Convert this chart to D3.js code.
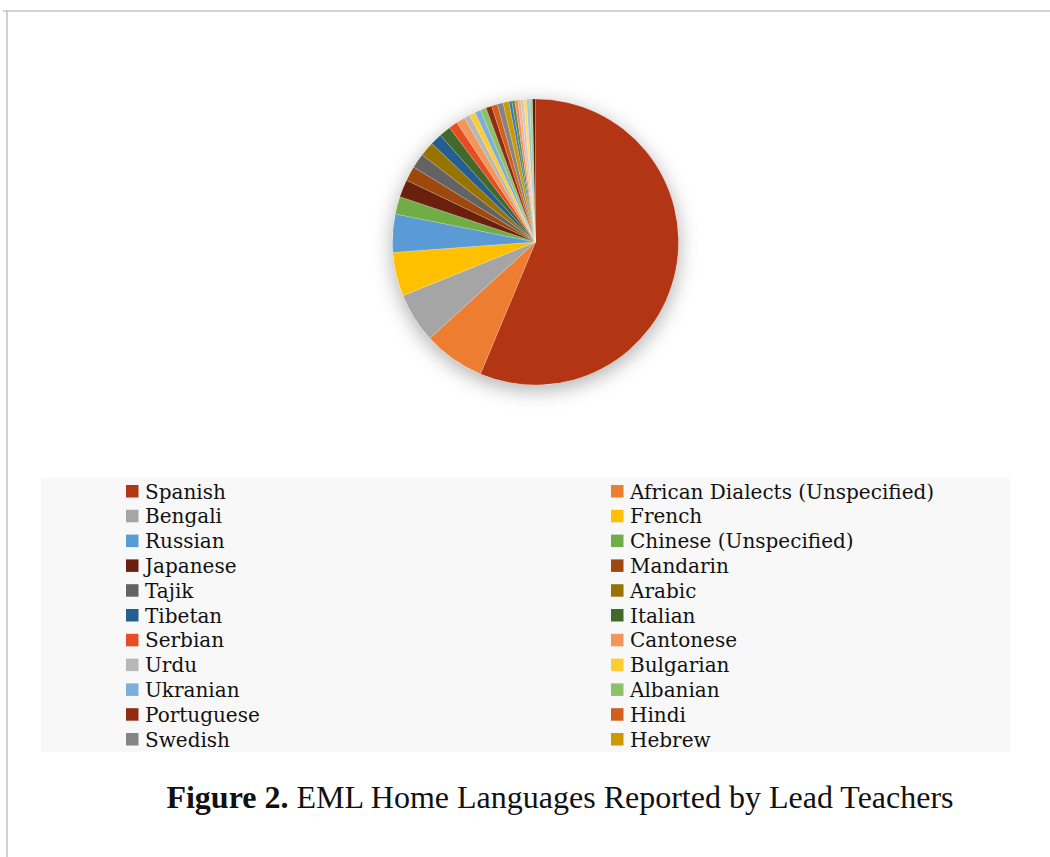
<!DOCTYPE html>
<html>
<head>
<meta charset="utf-8">
<script src="https://d3js.org/d3.v7.min.js"></script>
<style>
  body { margin: 0; background: #fff; }
  .legend text { font-family: "DejaVu Serif", serif; font-size: 20px; fill: #111; }
  .title { font-family: "Liberation Serif", "Times New Roman", serif; font-size: 32px; fill: #111; }
</style>
</head>
<body>
<svg id="chart" width="1050" height="857"></svg>
<script>
// languages shown in the legend (row by row, two columns)
var languages = ["Spanish", "African Dialects (Unspecified)", "Bengali", "French",
  "Russian", "Chinese (Unspecified)", "Japanese", "Mandarin", "Tajik", "Arabic",
  "Tibetan", "Italian", "Serbian", "Cantonese", "Urdu", "Bulgarian", "Ukranian",
  "Albanian", "Portuguese", "Hindi", "Swedish", "Hebrew"];
var counts = [170, 21, 17, 15, 13, 6, 6, 5, 5, 5, 4, 4, 3, 3, 2, 2, 2, 2, 2, 2, 2, 2];
// the remaining small slices that do not fit in the legend
var unlistedCounts = [1, 1, 1, 1, 1, 1, 1, 1, 1];

var colors = ["#B23613", "#ED7D31", "#A5A5A5", "#FFC000", "#5B9BD5", "#70AD47",
  "#6B200D", "#9E480E", "#636363", "#997300", "#255E91", "#43682B",
  "#E84C22", "#F1975A", "#B7B7B7", "#FFCD33", "#7CAFDD", "#8CC168",
  "#8F2C11", "#D2601A", "#848484", "#CC9A00", "#3B78B5", "#5A8A39",
  "#EF8A6B", "#F4B183", "#C9C9C9", "#FFD966", "#9DC3E6", "#A9D18E", "#5A1A08"];

var data = counts.concat(unlistedCounts).map(function(v, i) {
  return {name: languages[i] || "", value: v, color: colors[i]};
});

var svg = d3.select("#chart");

// frame lines
svg.append("line").attr("x1", 3).attr("x2", 1050).attr("y1", 11).attr("y2", 11)
  .attr("stroke", "#c6c6c6").attr("stroke-width", 1.6);
svg.append("line").attr("x1", 7).attr("x2", 7).attr("y1", 10).attr("y2", 857)
  .attr("stroke", "#c6c6c6").attr("stroke-width", 1.6);

var defs = svg.append("defs");
var f = defs.append("filter").attr("id", "shadow")
  .attr("x", "-30%").attr("y", "-30%").attr("width", "160%").attr("height", "160%");
f.append("feDropShadow").attr("dx", 0).attr("dy", 5).attr("stdDeviation", 10)
  .attr("flood-color", "#000").attr("flood-opacity", 0.32);

var cx = 535.5, cy = 242, radius = 143;

var pie = d3.pie().sort(null).value(function(d) { return d.value; });
var arc = d3.arc().innerRadius(0).outerRadius(radius);

var g = svg.append("g").attr("transform", "translate(" + cx + "," + cy + ")");
g.append("circle").attr("r", radius).attr("fill", "#fff").attr("filter", "url(#shadow)");
g.selectAll("path")
  .data(pie(data))
  .enter()
  .append("path")
  .attr("d", arc)
  .attr("fill", function(d) { return d.data.color; })
  .attr("stroke", "rgba(255,255,255,0.35)")
  .attr("stroke-width", 0.5);

// legend
var legendBox = {x: 41, y: 478, w: 969, h: 274};
svg.append("rect")
  .attr("x", legendBox.x).attr("y", legendBox.y)
  .attr("width", legendBox.w).attr("height", legendBox.h)
  .attr("fill", "#f8f8f8");

var colX = [126, 611];
var rowY = d3.scaleLinear().domain([0, 10]).range([491.5, 739.5]);

var items = svg.append("g").attr("class", "legend")
  .selectAll("g")
  .data(data.filter(function(d) { return d.name; }))
  .enter()
  .append("g")
  .attr("transform", function(d, i) {
    return "translate(" + colX[i % 2] + "," + rowY(Math.floor(i / 2)) + ")";
  });
items.append("rect").attr("x", 0).attr("y", -6.5).attr("width", 12.5).attr("height", 12.5)
  .attr("fill", function(d) { return d.color; });
items.append("text").attr("x", 19).attr("y", 7).text(function(d) { return d.name; });

// caption
var title = svg.append("text").attr("class", "title")
  .attr("x", 560).attr("y", 808).attr("text-anchor", "middle");
title.append("tspan").attr("font-weight", "bold").text("Figure 2.");
title.append("tspan").text(" EML Home Languages Reported by Lead Teachers");
</script>
</body>
</html>
